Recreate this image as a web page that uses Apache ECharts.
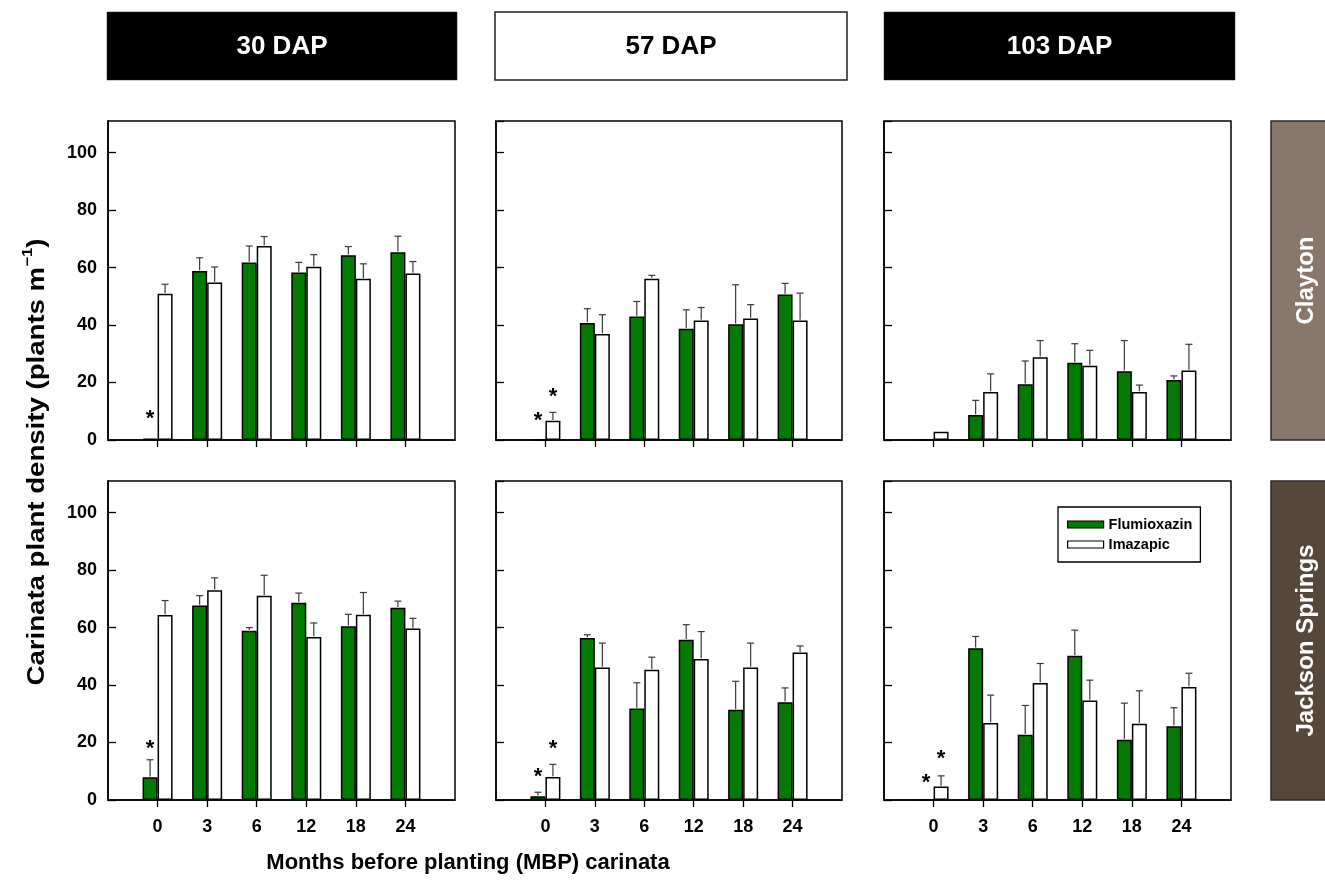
<!DOCTYPE html>
<html><head><meta charset="utf-8">
<script src="https://cdn.jsdelivr.net/npm/echarts@6/dist/echarts.min.js"></script>
<style>html,body{margin:0;padding:0;background:#fff}#c{width:1325px;height:887px}</style>
</head><body><div id="c"></div>
<script>
// ---------- data ----------
const categories = ['0', '3', '6', '12', '18', '24'];
const seriesNames = ['Flumioxazin', 'Imazapic'];
const dapLabels = ['30 DAP', '57 DAP', '103 DAP'];
const siteLabels = ['Clayton', 'Jackson Springs'];
const yTickLabels = [0, 20, 40, 60, 80, 100];
const xTitle = 'Months before planting (MBP) carinata';

// Clayton, 30 DAP
const clay30Flum = [0.5, 58.8, 61.8, 58.3, 64.3, 65.3];
const clay30FlumSE = [0, 4.6, 5.7, 3.5, 3.0, 5.6];
const clay30Ima = [50.9, 54.8, 67.5, 60.3, 56.1, 57.9];
const clay30ImaSE = [3.3, 5.4, 3.3, 4.2, 5.2, 4.2];
const clay30Stars = [[0, 0, 8.7]];
// Clayton, 57 DAP
const clay57Flum = [0, 40.7, 43.0, 38.7, 40.3, 50.6];
const clay57FlumSE = [0, 5.0, 5.2, 6.6, 13.7, 3.9];
const clay57Ima = [6.7, 36.9, 56.1, 41.6, 42.3, 41.6];
const clay57ImaSE = [2.9, 6.7, 1.2, 4.5, 4.8, 9.5];
const clay57Stars = [[0, 0, 8.1], [0, 1, 16.4]];
// Clayton, 103 DAP
const clay103Flum = [0, 8.7, 19.4, 26.9, 23.9, 20.9];
const clay103FlumSE = [0, 5.1, 8.1, 6.6, 10.7, 1.4];
const clay103Ima = [2.9, 16.7, 28.8, 25.8, 16.7, 24.2];
const clay103ImaSE = [0, 6.3, 5.8, 5.4, 2.4, 9.1];
const clay103Stars = [];
// Jackson Springs, 30 DAP
const jack30Flum = [7.9, 67.7, 58.9, 68.6, 60.5, 66.9];
const jack30FlumSE = [6.1, 3.4, 1.1, 3.4, 4.1, 2.3];
const jack30Ima = [64.4, 73.0, 71.1, 56.7, 64.5, 59.7];
const jack30ImaSE = [5.0, 4.3, 7.1, 4.9, 7.7, 3.5];
const jack30Stars = [[0, 0, 19.3]];
// Jackson Springs, 57 DAP
const jack57Flum = [1.3, 56.4, 31.8, 55.8, 31.4, 34.0];
const jack57FlumSE = [1.4, 1.1, 9.0, 5.2, 9.9, 5.0];
const jack57Ima = [8.0, 46.1, 45.3, 49.1, 46.1, 51.3];
const jack57ImaSE = [4.4, 8.5, 4.4, 9.5, 8.5, 2.3];
const jack57Stars = [[0, 0, 9.4], [0, 1, 19.1]];
// Jackson Springs, 103 DAP
const jack103Flum = [0, 52.8, 22.7, 50.2, 21.0, 25.7];
const jack103FlumSE = [0, 4.1, 10.2, 8.9, 12.7, 6.4];
const jack103Ima = [4.7, 26.8, 40.7, 34.6, 26.5, 39.3];
const jack103ImaSE = [3.7, 9.7, 6.8, 7.1, 11.5, 4.8];
const jack103Stars = [[0, 0, 7.5], [0, 1, 15.6]];

// ---------- layout / style ----------
const FONT = 'Liberation Sans, Arial, sans-serif';
const GREEN = '#037b03';
const BAR_W = 15;
const CAP = 3.5;
const colLeft = [108, 496, 884];
const colWidth = [347, 346, 347];
const rowTop = [121, 481];
const rowHeight = [319, 319];

const panels = [
  [clay30Flum, clay30FlumSE, clay30Ima, clay30ImaSE, clay30Stars],
  [clay57Flum, clay57FlumSE, clay57Ima, clay57ImaSE, clay57Stars],
  [clay103Flum, clay103FlumSE, clay103Ima, clay103ImaSE, clay103Stars],
  [jack30Flum, jack30FlumSE, jack30Ima, jack30ImaSE, jack30Stars],
  [jack57Flum, jack57FlumSE, jack57Ima, jack57ImaSE, jack57Stars],
  [jack103Flum, jack103FlumSE, jack103Ima, jack103ImaSE, jack103Stars]
];

const axisCats = ['L'].concat(categories, ['R']);
const grids = [], xAxes = [], yAxes = [], series = [];

panels.forEach((p, k) => {
  const row = Math.floor(k / 3), col = k % 3;
  grids.push({
    left: colLeft[col], top: rowTop[row], width: colWidth[col], height: rowHeight[row],
    show: true, borderColor: '#000', borderWidth: 1.5, backgroundColor: 'transparent'
  });
  xAxes.push({
    type: 'category', gridIndex: k, data: axisCats, boundaryGap: false,
    axisLine: { lineStyle: { color: '#000', width: 1.5 } },
    axisTick: { inside: false, length: 7, lineStyle: { color: '#000', width: 1.3 },
      interval: (i) => i > 0 && i < axisCats.length - 1 },
    axisLabel: { show: row === 1, margin: 18, color: '#000', fontFamily: FONT, fontWeight: 'bold', fontSize: 18,
      interval: 0, formatter: (v) => (v === 'L' || v === 'R') ? '' : v },
    splitLine: { show: false }
  });
  yAxes.push({
    type: 'value', gridIndex: k, min: 0, max: 111, interval: 20,
    axisLine: { show: true, lineStyle: { color: '#000', width: 1.5 } },
    axisTick: { show: true, inside: true, length: 8, lineStyle: { color: '#000', width: 1.3 } },
    axisLabel: { show: col === 0, margin: 11, color: '#000', fontFamily: FONT, fontWeight: 'bold', fontSize: 18,
      showMaxLabel: false, formatter: (v) => yTickLabels.indexOf(v) >= 0 ? String(v) : '' },
    splitLine: { show: false }
  });
  const [fl, flse, im, imse, stars] = p;
  const pad = (arr) => [null].concat(arr, [null]);
  series.push({
    name: seriesNames[0], type: 'bar', xAxisIndex: k, yAxisIndex: k, data: pad(fl),
    barWidth: BAR_W, barGap: '0%', z: 2,
    itemStyle: { color: GREEN, borderColor: '#000', borderWidth: 1.5 }
  });
  series.push({
    name: seriesNames[1], type: 'bar', xAxisIndex: k, yAxisIndex: k, data: pad(im),
    barWidth: BAR_W, barGap: '0%', z: 2,
    itemStyle: { color: '#fff', borderColor: '#000', borderWidth: 1.5 }
  });
  const errData = [];
  categories.forEach((c, i) => {
    if (flse[i] > 0) errData.push([i + 1, fl[i], flse[i], 0]);
    if (imse[i] > 0) errData.push([i + 1, im[i], imse[i], 1]);
  });
  series.push({
    type: 'custom', xAxisIndex: k, yAxisIndex: k, data: errData, z: 3, silent: true,
    encode: { x: 0, y: 1 },
    renderItem: (params, api) => {
      const x = api.value(0), m = api.value(1), se = api.value(2), s = api.value(3);
      const p0 = api.coord([x, m]);
      const p1 = api.coord([x, m + se]);
      const cx = p0[0] + (s === 0 ? -1 : 1) * BAR_W / 2;
      const st = { stroke: '#3a3a3a', lineWidth: 1.2 };
      return { type: 'group', children: [
        { type: 'line', shape: { x1: cx, y1: p0[1] - 0.75, x2: cx, y2: p1[1] }, style: st },
        { type: 'line', shape: { x1: cx - CAP, y1: p1[1], x2: cx + CAP, y2: p1[1] }, style: st }
      ]};
    }
  });
  if (stars.length) {
    series.push({
      type: 'custom', xAxisIndex: k, yAxisIndex: k, z: 4, silent: true,
      data: stars.map(s => [s[0] + 1, s[2], s[1]]),
      encode: { x: 0, y: 1 },
      renderItem: (params, api) => {
        const pt = api.coord([api.value(0), api.value(1)]);
        const cx = pt[0] + (api.value(2) === 0 ? -1 : 1) * BAR_W / 2;
        return { type: 'text', x: cx, y: pt[1] + 4,
          style: { text: '*', font: 'bold 22px ' + FONT, fill: '#000', align: 'center', verticalAlign: 'middle' } };
      }
    });
  }
});

// ---------- decorations ----------
const headerBoxes = [[107, 457], [495, 847], [884, 1235]];
const graphic = [];
dapLabels.forEach((t, i) => {
  const dark = i !== 1;
  const [x0, x1] = headerBoxes[i];
  graphic.push({ type: 'rect', shape: { x: x0, y: 12, width: x1 - x0, height: 68 },
    style: { fill: dark ? '#000' : '#fff', stroke: '#222', lineWidth: dark ? 0.5 : 1.5 } });
  graphic.push({ type: 'text', x: (x0 + x1) / 2, y: 47,
    style: { text: t, font: 'bold 26px ' + FONT, fill: dark ? '#fff' : '#000', align: 'center', verticalAlign: 'middle' } });
});
const stripFill = ['#8a776b', '#56473b'];
siteLabels.forEach((t, i) => {
  const y0 = rowTop[i], h = rowHeight[i];
  graphic.push({ type: 'rect', shape: { x: 1271, y: y0, width: 60, height: h },
    style: { fill: stripFill[i], stroke: '#2a2a2a', lineWidth: 1.5 } });
  graphic.push({ type: 'text', x: 1306, y: y0 + h / 2, rotation: Math.PI / 2,
    style: { text: t, font: 'bold 24px ' + FONT, fill: '#fff', align: 'center', verticalAlign: 'middle' } });
});
graphic.push({ type: 'text', x: 35, y: 462, rotation: Math.PI / 2, scaleX: 1.2, scaleY: 1,
  style: { text: '{a|Carinata plant density (plants m}{b|\u22121}{a|)}', align: 'center', verticalAlign: 'middle',
    rich: { a: { font: 'bold 23px ' + FONT, fill: '#000', lineHeight: 28, verticalAlign: 'bottom' },
            b: { font: 'bold 14px ' + FONT, fill: '#000', lineHeight: 28, verticalAlign: 'top' } } } });
graphic.push({ type: 'text', x: 468, y: 863,
  style: { text: xTitle, font: 'bold 22px ' + FONT, fill: '#000', align: 'center', verticalAlign: 'middle' } });

const chart = echarts.init(document.getElementById('c'), null, { renderer: 'canvas' });
chart.setOption({
  animation: false,
  backgroundColor: '#fff',
  grid: grids, xAxis: xAxes, yAxis: yAxes, series: series, graphic: graphic,
  legend: {
    orient: 'vertical', left: 1058, top: 507,
    backgroundColor: '#fff', borderColor: '#000', borderWidth: 1.3, borderRadius: 0,
    padding: [10, 8, 10, 9], itemGap: 5, itemWidth: 36, itemHeight: 7, selectedMode: false,
    textStyle: { fontFamily: FONT, fontWeight: 'bold', fontSize: 14.5, color: '#000' },
    data: [
      { name: seriesNames[0], icon: 'rect', itemStyle: { color: GREEN, borderColor: '#000', borderWidth: 1.2 } },
      { name: seriesNames[1], icon: 'rect', itemStyle: { color: '#fff', borderColor: '#000', borderWidth: 1.2 } }
    ]
  }
});
</script></body></html>
